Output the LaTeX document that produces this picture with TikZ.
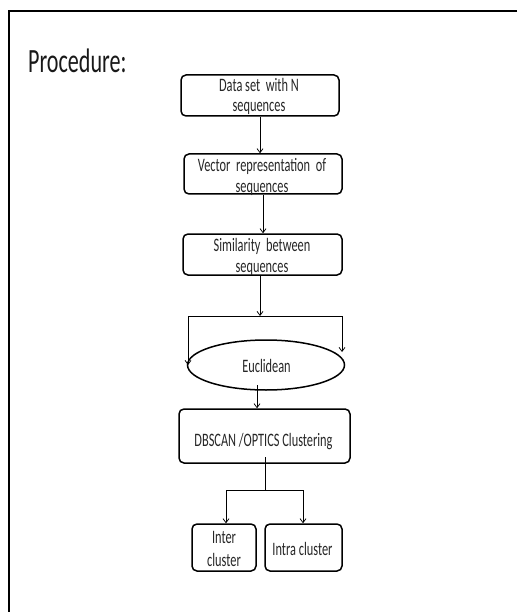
\documentclass[tikz,border=0pt]{standalone}
\usepackage{fontspec}
\setmainfont{Carlito}[FakeStretch=0.65]
\usetikzlibrary{arrows.meta,shapes.geometric}
\begin{document}
\begin{tikzpicture}[x=1pt,y=-1pt,
  box/.style={draw,line width=1.5pt,rounded corners=5pt,inner sep=0pt},
  oval/.style={draw,ellipse,line width=1.5pt,inner sep=0pt},
  txt/.style={anchor=base,inner sep=0pt,text=black!85,font=\fontsize{19}{21}\selectfont},
  title/.style={anchor=base west,inner sep=0pt,text=black!90,font=\fontsize{34}{38}\selectfont},
  link/.style={draw,line width=0.75pt},
  conn/.style={link,-{Straight Barb[length=4pt,width=6pt]}},
  frame/.style={draw,line width=1.4pt}]
\useasboundingbox (0,0) rectangle (517,612);
\draw[frame] (517,11) -- (9,11) -- (9,612);
\node[title] (proc) at (28,73) {Procedure:};
% boxes
\node[box,minimum width=158pt,minimum height=41pt] (b1) at (260,95.5) {};
\node[box,minimum width=158pt,minimum height=40pt] (b2) at (263,174) {};
\node[box,minimum width=159pt,minimum height=41pt] (b3) at (262.5,254.5) {};
\node[oval,minimum width=157pt,minimum height=50pt] (e) at (266,365) {};
\node[box,minimum width=171pt,minimum height=54pt] (b4) at (264.5,436) {};
\node[box,minimum width=64pt,minimum height=47pt] (b5) at (224,547.5) {};
\node[box,minimum width=77pt,minimum height=47pt] (b6) at (303.5,547.5) {};
% texts
\node[txt] (t1a) at (259,92) {Data set\ \ with N};
\node[txt] (t1b) at (259,112) {sequences};
\node[txt] (t2a) at (262,172) {Vector\ \ representation\ \ of};
\node[txt] (t2b) at (262,193) {sequences};
\node[txt] (t3a) at (262,251) {Similarity\ \ between};
\node[txt] (t3b) at (262,272) {sequences};
\node[txt] (t4) at (266.5,372) {Euclidean};
\node[txt] (t5) at (263.5,446) {DBSCAN /OPTICS Clustering};
\node[txt] (t6a) at (224,543.5) {Inter};
\node[txt] (t6b) at (224,566) {cluster};
\node[txt] (t7) at (302.5,555) {Intra cluster};
% connectors
\draw[conn] (b1.south) -- (b1.south |- b2.north);
\draw[conn] (b2.south) -- (b2.south |- b3.north);
\coordinate (j1) at (260,316);
\draw[conn] (j1 |- b3.south) -- (j1);
\coordinate (jl) at (188,316);
\coordinate (jr) at (342,316);
\coordinate (er) at (342,352);
\draw[link] (jl) -- (jr);
\draw[conn] (jl) -- (jl |- e.west);
\draw[conn] (jr) -- (er);
\coordinate (ea) at (257,385);
\draw[conn] (ea) -- (ea |- b4.north);
\coordinate (b4o) at (265,457);
\coordinate (j2) at (265,490);
\coordinate (j2l) at (226,490);
\coordinate (j2r) at (303,490);
\draw[link] (b4o) -- (j2);
\draw[link] (j2l) -- (j2r);
\draw[conn] (j2l) -- (j2l |- b5.north);
\draw[conn] (j2r) -- (j2r |- b6.north);
\end{tikzpicture}
\end{document}
